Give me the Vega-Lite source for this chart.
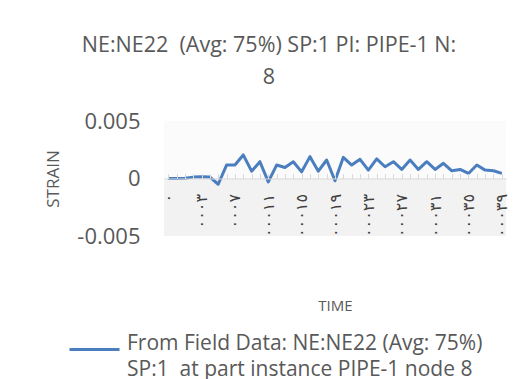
{
  "$schema": "https://vega.github.io/schema/vega-lite/v6.json",
  "autosize": {"type": "none"},
  "width": 342,
  "height": 115,
  "padding": {"left": 164, "top": 121, "right": 16, "bottom": 143},
  "background": "white",
  "title": {
    "text": ["NE:NE22 \u00a0(Avg: 75%) SP:1 PI: PIPE-1 N:", "8"],
    "anchor": "middle",
    "frame": "group",
    "dx": -66,
    "offset": 22,
    "font": "Open Sans",
    "fontSize": 21.5,
    "fontWeight": "normal",
    "color": "#595959",
    "lineHeight": 32
  },
  "datasets": {
    "band": [{"top": 0, "bottom": -0.005}],
    "series": [
      {"t": 0, "strain": 0, "s": "From Field Data: NE:NE22 (Avg: 75%)|SP:1 \u00a0at part instance PIPE-1 node 8"},
      {"t": 1, "strain": 0, "s": "From Field Data: NE:NE22 (Avg: 75%)|SP:1 \u00a0at part instance PIPE-1 node 8"},
      {"t": 2, "strain": 0.00003, "s": "From Field Data: NE:NE22 (Avg: 75%)|SP:1 \u00a0at part instance PIPE-1 node 8"},
      {"t": 3, "strain": 0.00012, "s": "From Field Data: NE:NE22 (Avg: 75%)|SP:1 \u00a0at part instance PIPE-1 node 8"},
      {"t": 4, "strain": 0.00015, "s": "From Field Data: NE:NE22 (Avg: 75%)|SP:1 \u00a0at part instance PIPE-1 node 8"},
      {"t": 5, "strain": 0.00012, "s": "From Field Data: NE:NE22 (Avg: 75%)|SP:1 \u00a0at part instance PIPE-1 node 8"},
      {"t": 6, "strain": -0.0005, "s": "From Field Data: NE:NE22 (Avg: 75%)|SP:1 \u00a0at part instance PIPE-1 node 8"},
      {"t": 7, "strain": 0.00117, "s": "From Field Data: NE:NE22 (Avg: 75%)|SP:1 \u00a0at part instance PIPE-1 node 8"},
      {"t": 8, "strain": 0.00117, "s": "From Field Data: NE:NE22 (Avg: 75%)|SP:1 \u00a0at part instance PIPE-1 node 8"},
      {"t": 9, "strain": 0.00205, "s": "From Field Data: NE:NE22 (Avg: 75%)|SP:1 \u00a0at part instance PIPE-1 node 8"},
      {"t": 10, "strain": 0.00064, "s": "From Field Data: NE:NE22 (Avg: 75%)|SP:1 \u00a0at part instance PIPE-1 node 8"},
      {"t": 11, "strain": 0.00146, "s": "From Field Data: NE:NE22 (Avg: 75%)|SP:1 \u00a0at part instance PIPE-1 node 8"},
      {"t": 12, "strain": -0.00029, "s": "From Field Data: NE:NE22 (Avg: 75%)|SP:1 \u00a0at part instance PIPE-1 node 8"},
      {"t": 13, "strain": 0.00117, "s": "From Field Data: NE:NE22 (Avg: 75%)|SP:1 \u00a0at part instance PIPE-1 node 8"},
      {"t": 14, "strain": 0.00096, "s": "From Field Data: NE:NE22 (Avg: 75%)|SP:1 \u00a0at part instance PIPE-1 node 8"},
      {"t": 15, "strain": 0.00146, "s": "From Field Data: NE:NE22 (Avg: 75%)|SP:1 \u00a0at part instance PIPE-1 node 8"},
      {"t": 16, "strain": 0.00058, "s": "From Field Data: NE:NE22 (Avg: 75%)|SP:1 \u00a0at part instance PIPE-1 node 8"},
      {"t": 17, "strain": 0.0019, "s": "From Field Data: NE:NE22 (Avg: 75%)|SP:1 \u00a0at part instance PIPE-1 node 8"},
      {"t": 18, "strain": 0.00064, "s": "From Field Data: NE:NE22 (Avg: 75%)|SP:1 \u00a0at part instance PIPE-1 node 8"},
      {"t": 19, "strain": 0.00161, "s": "From Field Data: NE:NE22 (Avg: 75%)|SP:1 \u00a0at part instance PIPE-1 node 8"},
      {"t": 20, "strain": -0.0002, "s": "From Field Data: NE:NE22 (Avg: 75%)|SP:1 \u00a0at part instance PIPE-1 node 8"},
      {"t": 21, "strain": 0.00184, "s": "From Field Data: NE:NE22 (Avg: 75%)|SP:1 \u00a0at part instance PIPE-1 node 8"},
      {"t": 22, "strain": 0.00117, "s": "From Field Data: NE:NE22 (Avg: 75%)|SP:1 \u00a0at part instance PIPE-1 node 8"},
      {"t": 23, "strain": 0.00167, "s": "From Field Data: NE:NE22 (Avg: 75%)|SP:1 \u00a0at part instance PIPE-1 node 8"},
      {"t": 24, "strain": 0.00073, "s": "From Field Data: NE:NE22 (Avg: 75%)|SP:1 \u00a0at part instance PIPE-1 node 8"},
      {"t": 25, "strain": 0.0017, "s": "From Field Data: NE:NE22 (Avg: 75%)|SP:1 \u00a0at part instance PIPE-1 node 8"},
      {"t": 26, "strain": 0.00102, "s": "From Field Data: NE:NE22 (Avg: 75%)|SP:1 \u00a0at part instance PIPE-1 node 8"},
      {"t": 27, "strain": 0.00146, "s": "From Field Data: NE:NE22 (Avg: 75%)|SP:1 \u00a0at part instance PIPE-1 node 8"},
      {"t": 28, "strain": 0.00079, "s": "From Field Data: NE:NE22 (Avg: 75%)|SP:1 \u00a0at part instance PIPE-1 node 8"},
      {"t": 29, "strain": 0.00161, "s": "From Field Data: NE:NE22 (Avg: 75%)|SP:1 \u00a0at part instance PIPE-1 node 8"},
      {"t": 30, "strain": 0.00079, "s": "From Field Data: NE:NE22 (Avg: 75%)|SP:1 \u00a0at part instance PIPE-1 node 8"},
      {"t": 31, "strain": 0.00146, "s": "From Field Data: NE:NE22 (Avg: 75%)|SP:1 \u00a0at part instance PIPE-1 node 8"},
      {"t": 32, "strain": 0.00079, "s": "From Field Data: NE:NE22 (Avg: 75%)|SP:1 \u00a0at part instance PIPE-1 node 8"},
      {"t": 33, "strain": 0.00132, "s": "From Field Data: NE:NE22 (Avg: 75%)|SP:1 \u00a0at part instance PIPE-1 node 8"},
      {"t": 34, "strain": 0.00067, "s": "From Field Data: NE:NE22 (Avg: 75%)|SP:1 \u00a0at part instance PIPE-1 node 8"},
      {"t": 35, "strain": 0.00079, "s": "From Field Data: NE:NE22 (Avg: 75%)|SP:1 \u00a0at part instance PIPE-1 node 8"},
      {"t": 36, "strain": 0.00044, "s": "From Field Data: NE:NE22 (Avg: 75%)|SP:1 \u00a0at part instance PIPE-1 node 8"},
      {"t": 37, "strain": 0.00117, "s": "From Field Data: NE:NE22 (Avg: 75%)|SP:1 \u00a0at part instance PIPE-1 node 8"},
      {"t": 38, "strain": 0.00073, "s": "From Field Data: NE:NE22 (Avg: 75%)|SP:1 \u00a0at part instance PIPE-1 node 8"},
      {"t": 39, "strain": 0.00067, "s": "From Field Data: NE:NE22 (Avg: 75%)|SP:1 \u00a0at part instance PIPE-1 node 8"},
      {"t": 40, "strain": 0.00044, "s": "From Field Data: NE:NE22 (Avg: 75%)|SP:1 \u00a0at part instance PIPE-1 node 8"}
    ]
  },
  "layer": [
    {
      "data": {"name": "band"},
      "mark": {"type": "rect", "color": "#f2f2f2"},
      "encoding": {
        "y": {"field": "top", "type": "quantitative", "scale": {"domain": [-0.005, 0.005]}},
        "y2": {"field": "bottom"}
      }
    },
    {
      "data": {"name": "series"},
      "mark": {"type": "line", "strokeWidth": 3, "strokeJoin": "round"},
      "encoding": {
        "x": {
          "field": "t",
          "type": "ordinal",
          "scale": {"type": "point", "padding": 0.5},
          "axis": {
            "zindex": 1,
            "title": "TIME",
            "titleFont": "Open Sans",
            "titleFontSize": 15,
            "titleFontWeight": "normal",
            "titleColor": "#595959",
            "titlePadding": 62,
            "offset": -57.5,
            "domainColor": "#d9d9d9",
            "domainWidth": 1,
            "tickColor": "#d9d9d9",
            "tickSize": -5,
            "labelAngle": 270,
            "labelAlign": "right",
            "labelBaseline": "middle",
            "labelPadding": 20,
            "labelFont": "DejaVu Sans",
            "labelFontSize": 16,
            "labelColor": "#404040",
            "labelOverlap": false,
            "labelExpr": "datum.value % 4 == 0 ? ['٠','٠٠٠٣','٠٠٠٧','٠٠٠١١','٠٠٠١٥','٠٠٠١٩','٠٠٠٢٣','٠٠٠٢٧','٠٠٠٣١','٠٠٠٣٥','٠٠٠٣٩'][datum.value / 4] : ''"
          }
        },
        "y": {
          "field": "strain",
          "type": "quantitative",
          "scale": {"domain": [-0.005, 0.005]},
          "axis": {
            "title": "STRAIN",
            "titleFont": "Open Sans",
            "titleFontSize": 17,
            "titleFontWeight": "normal",
            "titleColor": "#595959",
            "titlePadding": 14,
            "values": [-0.005, 0, 0.005],
            "labelExpr": "datum.value == 0 ? '0' : (datum.value < 0 ? '-' : '') + format(abs(datum.value), '.3f')",
            "labelFont": "Open Sans",
            "labelFontSize": 22,
            "labelColor": "#595959",
            "labelPadding": 24,
            "ticks": false,
            "domain": false,
            "grid": false
          }
        },
        "color": {
          "field": "s",
          "type": "nominal",
          "scale": {"range": ["#4a7ebf"]},
          "legend": {
            "title": null,
            "orient": "none",
            "legendX": -96,
            "legendY": 202,
            "padding": 0,
            "symbolType": "stroke",
            "symbolSize": 2500,
            "symbolStrokeWidth": 3,
            "labelOffset": 6,
            "labelFont": "Open Sans",
            "labelFontSize": 21,
            "labelColor": "#595959",
            "labelLimit": 600,
            "labelBaseline": "alphabetic",
            "labelExpr": "split(datum.label, '|')"
          }
        }
      }
    }
  ],
  "config": {
    "view": {"fill": "#fbfbfb", "stroke": null},
    "style": {"guide-label": {"lineHeight": 26}}
  }
}
